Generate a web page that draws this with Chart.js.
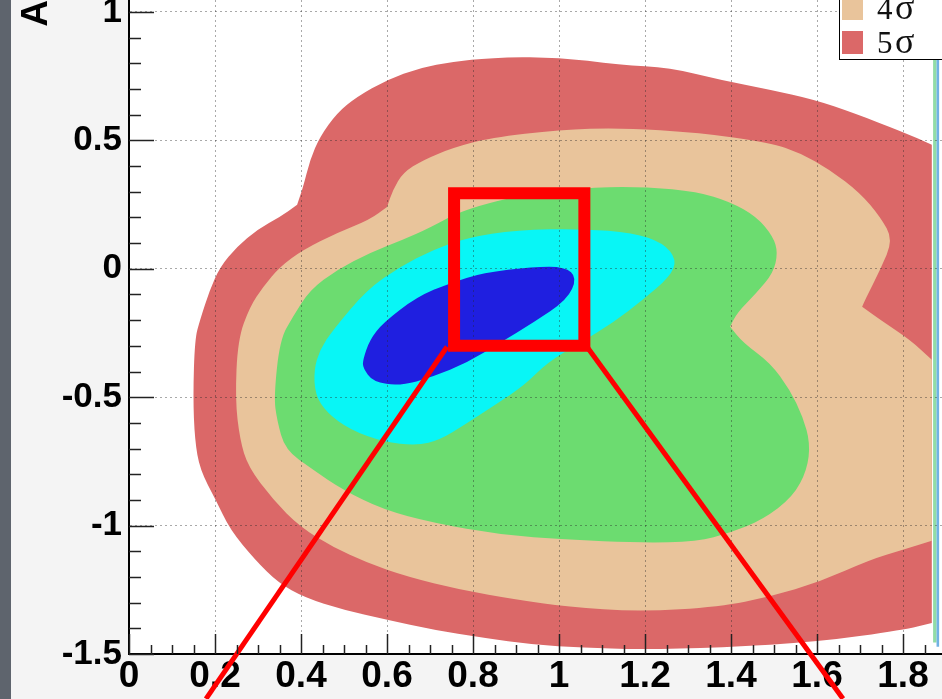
<!DOCTYPE html>
<html><head><meta charset="utf-8">
<script src="https://cdn.jsdelivr.net/npm/chart.js@4.4.1/dist/chart.umd.min.js"></script>
<style>html,body{margin:0;padding:0;overflow:hidden;background:#f4f4f4;width:942px;height:699px}canvas{display:block}</style>
</head><body><canvas id="c" width="960" height="699"></canvas>
<script>
// ---- data ----
const xTicks = [0, 0.2, 0.4, 0.6, 0.8, 1, 1.2, 1.4, 1.6, 1.8];
const yTicks = [-1.5, -1, -0.5, 0, 0.5, 1];
const yTitle = 'A';
const legendLabels = ['4σ', '5σ'];

const region5 = [[1.867,0.483],[1.800,0.533],[1.684,0.607],[1.595,0.658],[1.491,0.697],[1.374,0.736],[1.258,0.783],[1.142,0.794],[0.991,0.826],[0.840,0.822],[0.753,0.806],[0.677,0.783],[0.600,0.736],[0.530,0.670],[0.484,0.607],[0.444,0.514],[0.421,0.424],[0.405,0.319],[0.391,0.249],[0.351,0.202],[0.298,0.152],[0.251,0.086],[0.212,0.008],[0.188,-0.082],[0.165,-0.199],[0.153,-0.276],[0.149,-0.498],[0.153,-0.666],[0.165,-0.783],[0.202,-0.900],[0.235,-1.016],[0.293,-1.133],[0.347,-1.223],[0.409,-1.281],[0.498,-1.328],[0.600,-1.367],[0.707,-1.406],[0.823,-1.437],[0.940,-1.464],[1.056,-1.475],[1.188,-1.483],[1.374,-1.475],[1.607,-1.452],[1.800,-1.406],[1.867,-1.379]];
const region5Corners = [0, 18, 44];

const region4 = [[1.142,0.549],[1.328,0.530],[1.491,0.491],[1.560,0.452],[1.630,0.386],[1.700,0.296],[1.747,0.202],[1.777,0.113],[1.747,-0.004],[1.712,-0.121],[1.705,-0.148],[1.747,-0.199],[1.816,-0.276],[1.867,-0.354],[1.867,-1.059],[1.800,-1.094],[1.723,-1.133],[1.607,-1.219],[1.491,-1.277],[1.374,-1.316],[1.188,-1.336],[1.019,-1.316],[0.902,-1.289],[0.770,-1.250],[0.647,-1.199],[0.553,-1.145],[0.474,-1.083],[0.398,-1.005],[0.335,-0.900],[0.277,-0.771],[0.258,-0.666],[0.247,-0.510],[0.253,-0.276],[0.281,-0.148],[0.312,-0.070],[0.351,0.008],[0.405,0.074],[0.484,0.140],[0.560,0.191],[0.600,0.241],[0.614,0.308],[0.637,0.374],[0.684,0.424],[0.753,0.471],[0.840,0.510],[1.002,0.541]];
const region4Corners = [10, 13, 14, 39];

const region3 = [[1.088,0.319],[1.205,0.319],[1.321,0.300],[1.398,0.261],[1.460,0.202],[1.498,0.125],[1.509,0.062],[1.498,-0.016],[1.460,-0.093],[1.414,-0.171],[1.398,-0.226],[1.428,-0.288],[1.491,-0.366],[1.537,-0.471],[1.567,-0.576],[1.584,-0.678],[1.577,-0.783],[1.544,-0.888],[1.474,-0.977],[1.398,-1.028],[1.321,-1.063],[1.188,-1.067],[1.019,-1.055],[0.863,-1.036],[0.707,-0.989],[0.591,-0.938],[0.498,-0.861],[0.428,-0.783],[0.363,-0.705],[0.344,-0.588],[0.337,-0.498],[0.351,-0.276],[0.381,-0.187],[0.421,-0.082],[0.484,-0.004],[0.560,0.062],[0.637,0.113],[0.700,0.160],[0.777,0.230],[0.933,0.296]];
const region3Corners = [10];

const region2 = [[0.474,-0.238],[0.553,-0.082],[0.630,0.008],[0.707,0.074],[0.786,0.121],[0.902,0.152],[1.056,0.156],[1.172,0.140],[1.242,0.101],[1.274,0.035],[1.258,-0.031],[1.195,-0.121],[1.126,-0.210],[1.049,-0.288],[0.972,-0.366],[0.921,-0.452],[0.851,-0.530],[0.781,-0.607],[0.723,-0.666],[0.670,-0.689],[0.591,-0.674],[0.514,-0.627],[0.460,-0.561],[0.433,-0.491],[0.430,-0.393],[0.444,-0.315]];

const region1 = [[0.544,-0.354],[0.560,-0.276],[0.591,-0.210],[0.670,-0.109],[0.747,-0.055],[0.823,-0.016],[0.940,0.008],[1.014,0.008],[1.042,-0.035],[1.019,-0.121],[0.940,-0.210],[0.863,-0.288],[0.786,-0.366],[0.707,-0.421],[0.630,-0.456],[0.567,-0.440],[0.544,-0.385]];

const stripGreen = [[1.870,0.814],[1.878,0.814],[1.878,-1.455],[1.870,-1.455]];
const stripBlue = [[1.878,0.814],[1.884,0.814],[1.884,-1.472],[1.878,-1.472]];

const zoomBox = [[0.756,0.294],[1.059,0.294],[1.059,-0.300],[0.756,-0.300],[0.756,0.294]];
const zoomLineLeft = [[0.7395,-0.3037],[0.179,-1.6745]];
const zoomLineRight = [[1.065,-0.3037],[1.6605,-1.6745]];

// ---- styles ----
const COL = {r5:'#db6868', r4:'#e9c49b', r3:'#6cdc70', r2:'#08f6f6', r1:'#1f1fe0'};
const toPts = a => a.map(p => ({x:p[0], y:p[1]}));
const regionDs = (d, color, corners) => ({data:toPts(d), region:true, corners:corners||[], backgroundColor:color, pointRadius:0, showLine:false});

const regionPlugin = {
  id:'regions',
  beforeDraw(chart){
    const {ctx, chartArea:a} = chart;
    ctx.save();
    ctx.fillStyle = '#f4f4f4'; ctx.fillRect(0,0,chart.width,chart.height);
    ctx.fillStyle = '#5e646d'; ctx.fillRect(0,0,11,chart.height);
    ctx.fillStyle = '#ffffff'; ctx.fillRect(a.left,a.top,a.right-a.left,a.bottom-a.top);
    ctx.beginPath(); ctx.rect(a.left,a.top,a.right-a.left,a.bottom-a.top); ctx.clip();
    chart.data.datasets.forEach((ds,i) => {
      if (!ds.region) return;
      const pts = chart.getDatasetMeta(i).data;
      const n = pts.length; if (!n) return;
      const sharp = new Set(ds.corners);
      const mid = (p,q) => [(p.x+q.x)/2,(p.y+q.y)/2];
      ctx.beginPath();
      const m0 = mid(pts[n-1],pts[0]);
      ctx.moveTo(m0[0],m0[1]);
      for (let k=0;k<n;k++){
        const c = pts[k], m = mid(c, pts[(k+1)%n]);
        if (sharp.has(k)) { ctx.lineTo(c.x,c.y); ctx.lineTo(m[0],m[1]); }
        else ctx.quadraticCurveTo(c.x,c.y,m[0],m[1]);
      }
      ctx.closePath();
      ctx.fillStyle = ds.backgroundColor; ctx.fill();
    });
    ctx.restore();
  },
  afterDraw(chart){
    const {ctx, chartArea:a, scales:{x,y}} = chart;
    ctx.save();
    ctx.strokeStyle = '#222'; ctx.lineWidth = 1.5;
    const seg = (x1,y1,x2,y2) => {ctx.beginPath();ctx.moveTo(x1,y1);ctx.lineTo(x2,y2);ctx.stroke();};
    for (let i=-15;i<=10;i++){ const py = Math.round(y.getPixelForValue(i/10))+0.5; seg(a.left, py, a.left+((i%5===0)?25:12), py); }
    for (let i=0;i<=37;i++){ const px = Math.round(x.getPixelForValue(i*0.05))+0.5; seg(px, a.bottom, px, a.bottom-((i%4===0)?20:9)); }
    // legend box (partly outside the picture, as in the reference)
    ctx.fillStyle = '#ffffff'; ctx.fillRect(839,-6,140,65);
    ctx.strokeStyle = '#000'; ctx.lineWidth = 1; ctx.strokeRect(839.5,-6.5,140,66);
    const sw = [COL.r4, COL.r5];
    legendLabels.forEach((lab,k) => {
      const base = 19 + k*34;
      ctx.fillStyle = sw[k]; ctx.fillRect(842, base-22, 21, 23);
      ctx.fillStyle = '#111'; ctx.textBaseline = 'alphabetic'; ctx.textAlign = 'left';
      ctx.font = '31px "Liberation Serif"'; ctx.fillText(lab.slice(0,-1), 877, base);
      ctx.font = '36px "Liberation Serif"'; ctx.fillText(lab.slice(-1), 895, base);
    });
    ctx.restore();
  }
};

const tickFont = s => ({family:'"Liberation Sans", Arial, sans-serif', size:s, weight:'bold', lineHeight:1.2});
const fmt = v => String(Math.round(v*10)/10);
const noPad = s => { s.paddingTop = 0; s.paddingBottom = 0; s.paddingLeft = 0; s.paddingRight = 0; };

new Chart(document.getElementById('c'), {
  type:'scatter',
  data:{datasets:[
    regionDs(region5, COL.r5, region5Corners),
    regionDs(region4, COL.r4, region4Corners),
    regionDs(region3, COL.r3, region3Corners),
    regionDs(region2, COL.r2),
    regionDs(region1, COL.r1),
    regionDs(stripGreen, '#92dca6', [0,1,2,3]),
    regionDs(stripBlue, '#72b2e4', [0,1,2,3]),
    {data:toPts(zoomBox), showLine:true, borderColor:'#ff0000', borderWidth:12, borderCapStyle:'square', borderJoinStyle:'miter', pointRadius:0, tension:0},
    {data:toPts(zoomLineLeft), showLine:true, borderColor:'#ff0000', borderWidth:5, pointRadius:0, clip:false},
    {data:toPts(zoomLineRight), showLine:true, borderColor:'#ff0000', borderWidth:5, pointRadius:0, clip:false}
  ]},
  options:{
    responsive:false, animation:false, devicePixelRatio:1, events:[],
    layout:{padding:{left:0,right:14,top:0,bottom:0}},
    plugins:{legend:{display:false}, tooltip:{enabled:false}},
    scales:{
      x:{type:'linear', position:'bottom', min:0, max:1.9,
        afterBuildTicks:s => { s.ticks = xTicks.map(v=>({value:v})); },
        afterFit:s => { s.height = 45; noPad(s); },
        ticks:{color:'#000', font:tickFont(37), padding:1, maxRotation:0, autoSkip:false, callback:fmt},
        grid:{color:'rgba(40,40,40,0.4)', lineWidth:1, drawTicks:false},
        border:{display:true, color:'#000', width:2, dash:[2,3]}
      },
      y:{type:'linear', position:'left', min:-1.5, max:1.0467,
        afterBuildTicks:s => { s.ticks = yTicks.map(v=>({value:v})); },
        afterFit:s => { s.width = 129; noPad(s); },
        ticks:{color:'#000', font:tickFont(35), padding:7, autoSkip:false, callback:fmt},
        grid:{color:'rgba(40,40,40,0.4)', lineWidth:1, drawTicks:false},
        border:{display:true, color:'#000', width:2, dash:[2,3]},
        title:{display:true, text:yTitle, align:'end', color:'#000', font:{family:'"Liberation Sans", Arial, sans-serif', size:37, weight:'bold', lineHeight:1}, padding:{top:18,bottom:0}}
      }
    }
  },
  plugins:[regionPlugin]
});
</script>
</body></html>
